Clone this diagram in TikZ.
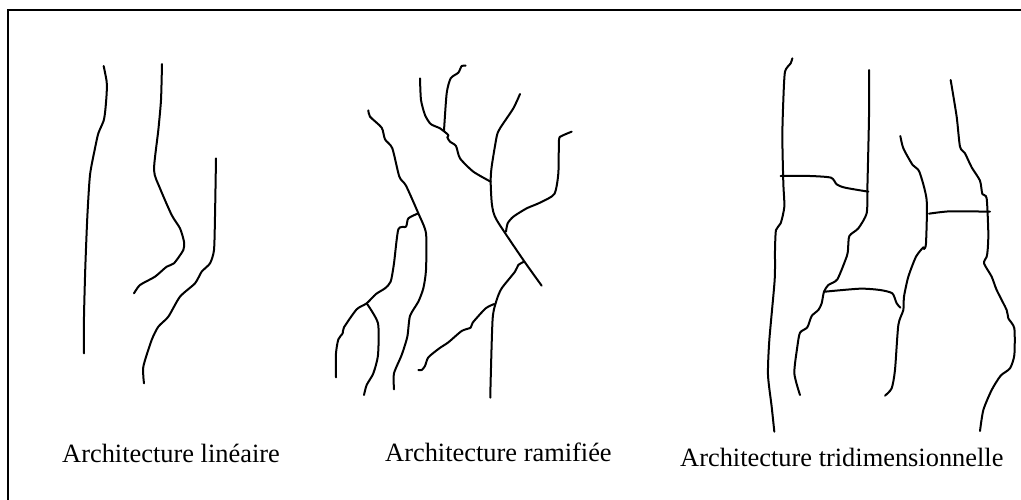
\documentclass[tikz,border=0pt]{standalone}
\usepackage{fontspec}
\setmainfont{Liberation Serif}
\tikzset{
  root/.style={line width=2pt,line cap=round,line join=round,black},
  captext/.style={font=\fontsize{26.4}{30}\selectfont,inner sep=0pt,anchor=base west,black}
}
\newcommand{\rootline}[1]{\draw[root] plot[smooth,tension=0.4] coordinates {#1};}
\begin{document}
\begin{tikzpicture}[x=1pt,y=-1pt]
\useasboundingbox (0,0) rectangle (1021,499);
\fill[white] (0,0) rectangle (1021,499);
\draw[line width=2.4pt,black] (8,510) -- (8,10) -- (1030,10);
\begin{scope}[shift={(60,50)},scale=1/3]
\rootline{(131,48)(140,95)(140,130)(136,180)(131,212)(115,250)(105,295)(90,375)(82,500)(76,650)(72,800)(72,910)}
\rootline{(306,42)(303,150)(295,240)(282,360)(300,415)(335,495)(360,535)(372,575)(370,600)(342,640)(320,650)(285,680)(240,705)(222,730)}
\rootline{(468,325)(465,500)(462,600)(450,640)(425,665)(405,700)(360,740)(325,800)(295,830)(275,870)(250,950)(252,1000)}
\end{scope}
\begin{scope}[shift={(320,50)},scale=1/3]
\rootline{(145,181)(150,200)(185,233)(195,268)(217,295)(238,380)(258,407)(295,490)(318,550)(318,660)(310,715)(295,755)(270,798)(262,860)(245,915)(222,970)(222,1018)}
\rootline{(295,490)(265,505)(258,530)(235,538)(222,640)(212,695)(195,715)(168,732)(140,760)(110,778)(72,832)(68,850)(55,868)(48,910)(48,982)}
\rootline{(140,760)(174,820)(174,915)(160,970)(140,1005)(132,1035)}
\rootline{(300,85)(303,150)(315,195)(332,222)(360,235)(385,255)(382,262)(390,275)(408,288)(420,325)(460,365)(512,395)}
\rootline{(372,242)(380,130)(392,85)(415,68)(425,48)(437,47)}
\rootline{(600,132)(580,175)(540,235)(530,260)(515,350)(512,395)(516,465)(530,510)(610,630)(665,707)}
\rootline{(755,245)(725,258)(717,270)(715,370)(703,432)(660,458)(620,475)(580,500)(563,520)(558,545)}
\rootline{(612,635)(595,645)(585,665)(545,715)(530,750)(518,805)(512,990)(511,1043)}
\rootline{(523,762)(497,775)(458,818)(452,833)(425,843)(385,877)(358,895)(325,922)(315,948)(305,960)(295,960)}
\end{scope}
\begin{scope}[shift={(760,50)},scale=1/3]
\rootline{(97,25)(92,40)(75,65)(70,150)(67,260)(70,400)(73,470)(62,520)(48,540)(45,600)(44,690)(28,870)(24,975)(35,1070)(43,1145)}
\rootline{(327,60)(327,200)(322,420)(320,490)(295,535)(268,558)(264,600)(260,620)(232,688)(205,705)(192,725)(185,760)(175,780)(155,798)(142,832)(120,848)(112,890)(103,970)(120,1035)}
\rootline{(421,258)(430,295)(458,345)(478,365)(500,450)(498,580)(492,597)(490,592)(468,620)(445,680)(432,740)(430,780)(415,825)(405,960)(395,1015)(375,1037)}
\rootline{(572,90)(590,200)(600,290)(615,310)(635,352)(660,392)(667,432)(680,445)(685,550)(683,600)(680,620)(672,640)(695,680)(710,720)(740,780)(745,805)(763,835)(763,915)(750,955)(722,977)(695,1020)(670,1080)(660,1143)}
\rootline{(62,378)(150,378)(213,383)(230,403)(255,413)(325,425)}
\rootline{(507,491)(570,484)(690,485)}
\rootline{(195,725)(300,716)(360,720)(397,730)(410,760)(421,773)}
\end{scope}
\node[captext] (a) at (62,462) {Architecture linéaire};
\node[captext] (b) at (385,461) {Architecture ramifiée};
\node[captext] (c) at (680,466) {Architecture tridimensionnelle};
\end{tikzpicture}
\end{document}
